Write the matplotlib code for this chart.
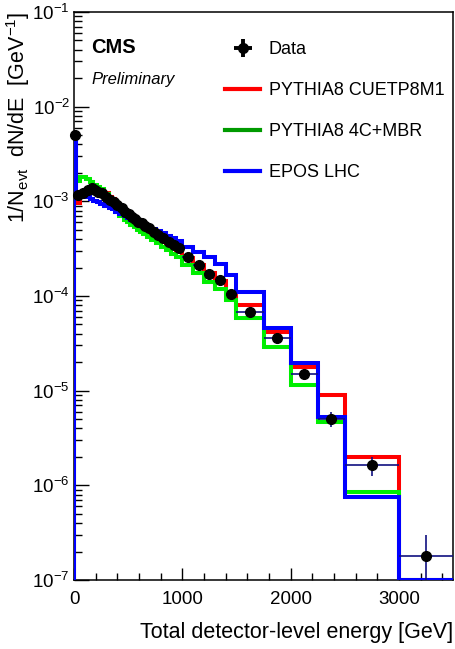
import matplotlib
matplotlib.use("Agg")
import matplotlib.pyplot as plt
import numpy as np
from matplotlib.ticker import LogLocator, MultipleLocator, FixedLocator, FuncFormatter, NullFormatter
from matplotlib.lines import Line2D

plt.rcParams['font.family'] = ['Liberation Sans', 'DejaVu Sans']
plt.rcParams['mathtext.default'] = 'regular'

# ---- data ----
bin_edges = [0, 20, 60, 110, 150, 180, 210, 240, 280, 320, 350, 380, 420, 460, 490,
             520, 550, 580, 610, 640, 670, 710, 760, 800, 850, 900, 940, 1000,
             1100, 1200, 1300, 1400, 1500, 1750, 2000, 2250, 2500, 3000, 3500]

data_vals = [5.0e-3, 1.17e-3, 1.22e-3, 1.32e-3, 1.37e-3, 1.32e-3, 1.27e-3, 1.22e-3,
             1.12e-3, 1.04e-3, 9.9e-4, 9.2e-4, 8.5e-4, 7.8e-4, 7.3e-4, 6.9e-4,
             6.5e-4, 6.1e-4, 5.9e-4, 5.5e-4, 5.2e-4, 4.8e-4, 4.4e-4, 4.07e-4,
             3.75e-4, 3.47e-4, 3.2e-4, 2.6e-4, 2.1e-4, 1.7e-4, 1.49e-4, 1.04e-4,
             6.8e-5, 3.58e-5, 1.5e-5, 5.0e-6, 1.62e-6, 1.8e-7]
data_errs = [1.0e-4, 2.0e-5, 2.0e-5, 2.0e-5, 2.0e-5, 2.0e-5, 2.0e-5, 2.0e-5,
             2.0e-5, 2.0e-5, 1.5e-5, 1.5e-5, 1.5e-5, 1.2e-5, 1.2e-5, 1.0e-5,
             1.0e-5, 1.0e-5, 1.0e-5, 1.0e-5, 8.0e-6, 8.0e-6, 8.0e-6, 7.0e-6,
             7.0e-6, 6.0e-6, 6.0e-6, 5.0e-6, 4.0e-6, 3.5e-6, 3.0e-6, 2.5e-6,
             1.5e-6, 1.0e-6, 6.0e-7, 9.0e-7, 3.7e-7, 1.2e-7]

cuetp8m1_vals = [4.3e-3, 9.5e-4, 1.2e-3, 1.3e-3, 1.35e-3, 1.33e-3, 1.32e-3, 1.3e-3,
                 1.22e-3, 1.12e-3, 1.05e-3, 9.6e-4, 8.8e-4, 8.1e-4, 7.5e-4, 7.0e-4,
                 6.6e-4, 6.2e-4, 5.9e-4, 5.5e-4, 5.1e-4, 4.6e-4, 4.2e-4, 3.85e-4,
                 3.5e-4, 3.25e-4, 3.0e-4, 2.55e-4, 2.1e-4, 1.75e-4, 1.45e-4, 1.08e-4,
                 8.0e-5, 4.2e-5, 1.8e-5, 8.9e-6, 2.0e-6, 1.0e-7]

mbr_vals = [4.3e-3, 1.62e-3, 1.8e-3, 1.72e-3, 1.6e-3, 1.5e-3, 1.42e-3, 1.35e-3,
            1.2e-3, 1.0e-3, 8.9e-4, 7.8e-4, 7.0e-4, 6.4e-4, 6.0e-4, 5.6e-4,
            5.3e-4, 5.0e-4, 4.8e-4, 4.5e-4, 4.2e-4, 3.9e-4, 3.6e-4, 3.3e-4,
            3.05e-4, 2.8e-4, 2.6e-4, 2.15e-4, 1.75e-4, 1.42e-4, 1.2e-4, 9.0e-5,
            5.8e-5, 2.9e-5, 1.15e-5, 4.7e-6, 8.5e-7, 1.0e-7]

epos_vals = [4.4e-3, 1.17e-3, 1.12e-3, 1.1e-3, 1.07e-3, 1.02e-3, 9.8e-4, 9.4e-4,
             9.0e-4, 8.6e-4, 8.2e-4, 7.8e-4, 7.4e-4, 7.0e-4, 6.7e-4, 6.4e-4,
             6.1e-4, 5.9e-4, 5.7e-4, 5.5e-4, 5.3e-4, 5.1e-4, 4.9e-4, 4.6e-4,
             4.35e-4, 4.1e-4, 3.85e-4, 3.3e-4, 2.9e-4, 2.6e-4, 2.2e-4, 1.68e-4,
             1.09e-4, 4.57e-5, 1.95e-5, 5.3e-6, 7.6e-7, 1.0e-7]

labels = ["Data", "PYTHIA8 CUETP8M1", "PYTHIA8 4C+MBR", "EPOS LHC"]
x_ticks = [0, 1000, 2000, 3000]

# ---- figure ----
fig = plt.figure(figsize=(4.55, 6.49), dpi=100)
ax = fig.add_axes([74 / 455, 1 - 580 / 649, 379 / 455, 568 / 649])

edges = np.array(bin_edges, dtype=float)
centers = 0.5 * (edges[:-1] + edges[1:])
halfw = 0.5 * (edges[1:] - edges[:-1])

ymin = 1e-7
ax.stairs(cuetp8m1_vals, edges, baseline=ymin, color='#ff0000', lw=2.9, zorder=2)
ax.stairs(mbr_vals, edges, baseline=ymin, color='#00ee00', lw=2.9, zorder=3)
ax.stairs(epos_vals, edges, baseline=ymin, color='#0000ff', lw=2.9, zorder=4)

ax.errorbar(centers, data_vals, xerr=halfw, yerr=data_errs, fmt='none',
            ecolor='#101080', elinewidth=1.2, capsize=0, zorder=5)
ax.plot(centers, data_vals, 'o', color='k', ms=7, zorder=6, clip_on=False)

ax.set_yscale('log')
ax.set_xlim(0, 3500)
ax.set_ylim(1e-7, 1e-1)

ax.xaxis.set_major_locator(FixedLocator(x_ticks))
ax.xaxis.set_minor_locator(MultipleLocator(200))
ax.yaxis.set_major_locator(LogLocator(base=10, numticks=20))
ax.yaxis.set_minor_locator(LogLocator(base=10, subs=np.arange(2, 10), numticks=20))
ax.yaxis.set_minor_formatter(NullFormatter())
ax.yaxis.set_major_formatter(FuncFormatter(lambda v, p: r'$10^{%d}$' % int(round(np.log10(v)))))
ax.xaxis.offsetText.set_visible(False)
ax.yaxis.offsetText.set_visible(False)

ax.tick_params(which='both', direction='in', top=False, right=False, labelsize=13.5)
ax.tick_params(axis='x', which='major', length=9, width=1, pad=8)
ax.tick_params(axis='x', which='minor', length=5, width=1)
ax.tick_params(axis='y', which='major', length=11, width=1, pad=3)
ax.tick_params(axis='y', which='minor', length=5.5, width=1)
for s in ax.spines.values():
    s.set_linewidth(1.1)

ax.set_xlabel('Total detector-level energy [GeV]', fontsize=15.5, loc='right', labelpad=10)
ax.set_ylabel(r'1/N$_{evt}$  dN/dE  [GeV$^{-1}$]', fontsize=15.5, loc='top')
ax.yaxis.set_label_coords(-0.112, 1.0)

ax.text(0.045, 0.955, 'CMS', transform=ax.transAxes, fontsize=14.5, fontweight='bold', va='top')
ax.text(0.045, 0.895, 'Preliminary', transform=ax.transAxes, fontsize=12, style='italic', va='top')

# legend
h_data = ax.errorbar([np.nan], [np.nan], xerr=[1], yerr=[1], fmt='o', color='k',
                     ecolor='k', elinewidth=2.8, ms=7)
h_red = Line2D([], [], color='#ff0000', lw=3)
h_grn = Line2D([], [], color='#009a00', lw=3)
h_blu = Line2D([], [], color='#0000ff', lw=3)
fig.legend([h_data, h_red, h_grn, h_blu], labels, loc='upper left',
           bbox_to_anchor=(209 / 455, 1 - 25 / 649), frameon=False, fontsize=13,
           handlelength=1.95, handletextpad=0.45, labelspacing=1.33)

fig.savefig('out.png', dpi=100)
